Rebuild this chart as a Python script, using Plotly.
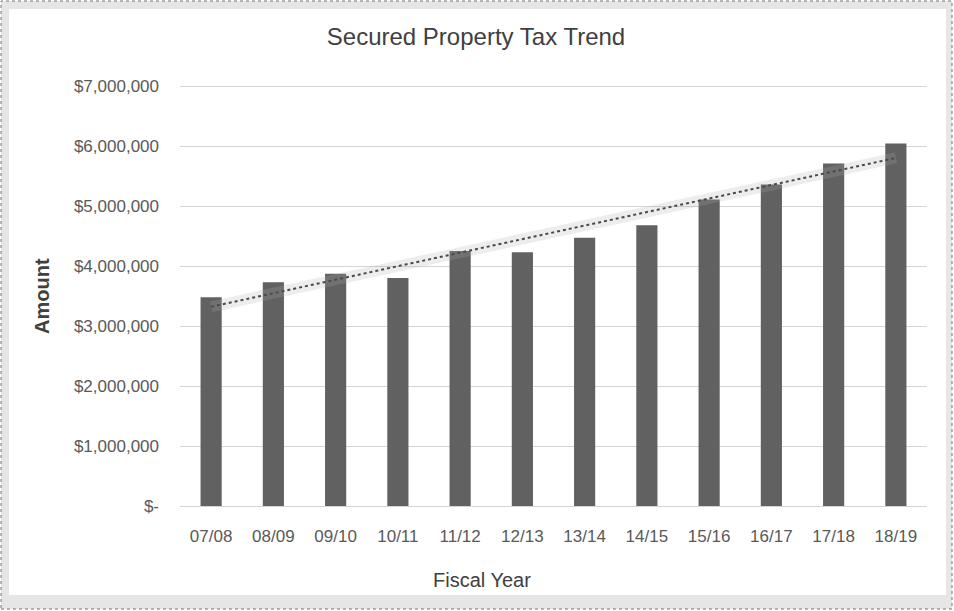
import numpy as np
import plotly.graph_objects as go

# Fiscal years and secured property tax amounts (USD)
fiscal_years = ["07/08", "08/09", "09/10", "10/11", "11/12", "12/13",
                "13/14", "14/15", "15/16", "16/17", "17/18", "18/19"]
amounts = [3480000, 3730000, 3870000, 3800000, 4250000, 4230000,
           4470000, 4680000, 5110000, 5360000, 5710000, 6040000]

y_tick_vals = [0, 1000000, 2000000, 3000000, 4000000, 5000000, 6000000, 7000000]
y_tick_text = ["$-", "$1,000,000", "$2,000,000", "$3,000,000", "$4,000,000",
               "$5,000,000", "$6,000,000", "$7,000,000"]

# Linear trendline fitted over the category index
idx = np.arange(len(amounts))
slope, intercept = np.polyfit(idx, amounts, 1)
trend = slope * idx + intercept

W, H = 954, 611
L, R, T, B = 180, 27, 83, 102
pw, ph = W - L - R, H - T - B


def xp(px):
    return (px - L) / pw


def yp(py):
    return (H - B - py) / ph


FONT = "Liberation Sans, Arial, sans-serif"
TEXT = "#595959"
GRID = "#d4d4d4"

fig = go.Figure()

fig.add_trace(go.Bar(
    x=fiscal_years, y=amounts,
    marker=dict(color="#616161", line=dict(width=0)),
    name="Amount",
))

# soft glow under the trendline
fig.add_trace(go.Scatter(
    x=fiscal_years, y=trend, mode="lines",
    line=dict(color="rgba(175,175,175,0.22)", width=11),
    hoverinfo="skip", showlegend=False,
))
fig.add_trace(go.Scatter(
    x=fiscal_years, y=trend, mode="lines",
    line=dict(color="#4a4a4a", width=2, dash="dot"),
    name="Linear (Amount)", showlegend=False,
))

shapes = [
    # outer frame
    dict(type="rect", xref="paper", yref="paper", layer="below",
         x0=xp(1), x1=xp(W - 2), y0=yp(H - 2), y1=yp(1),
         fillcolor="#e6e6e6", line=dict(color="#777777", width=1, dash="dot")),
    # inner chart area
    dict(type="rect", xref="paper", yref="paper", layer="below",
         x0=xp(9), x1=xp(W - 8), y0=yp(H - 16), y1=yp(9),
         fillcolor="white", line=dict(width=0)),
]

fig.update_layout(
    width=W, height=H,
    margin=dict(l=L, r=R, t=T, b=B, pad=0),
    paper_bgcolor="white",
    plot_bgcolor="rgba(0,0,0,0)",
    font=dict(family=FONT, color=TEXT, size=17),
    showlegend=False,
    bargap=0.66,
    shapes=shapes,
    title=dict(
        text="Secured Property Tax Trend",
        font=dict(family=FONT, size=24, color="#404040"),
        x=476 / W, xanchor="center", xref="container",
        y=1 - 37 / H, yanchor="middle", yref="container",
    ),
    annotations=[
        dict(text="<b>Amount</b>", xref="paper", yref="paper",
             x=xp(42), y=yp(296), xanchor="center", yanchor="middle",
             textangle=-90, showarrow=False,
             font=dict(family=FONT, size=20, color="#404040")),
        dict(text="Fiscal Year", xref="paper", yref="paper",
             x=xp(482), y=yp(580), xanchor="center", yanchor="middle",
             showarrow=False,
             font=dict(family=FONT, size=20, color="#404040")),
    ],
    xaxis=dict(
        type="category",
        showgrid=False, zeroline=False, showline=False,
        ticks="", ticklabelstandoff=15,
        tickfont=dict(family=FONT, size=17, color=TEXT),
    ),
    yaxis=dict(
        range=[-50000, 7050000],
        tickvals=y_tick_vals, ticktext=y_tick_text,
        showgrid=True, gridcolor=GRID, gridwidth=1,
        zeroline=True, zerolinecolor=GRID, zerolinewidth=1,
        showline=False,
        ticks="", ticklabelstandoff=20,
        tickfont=dict(family=FONT, size=17, color=TEXT),
    ),
)

fig.write_html("out.html")
